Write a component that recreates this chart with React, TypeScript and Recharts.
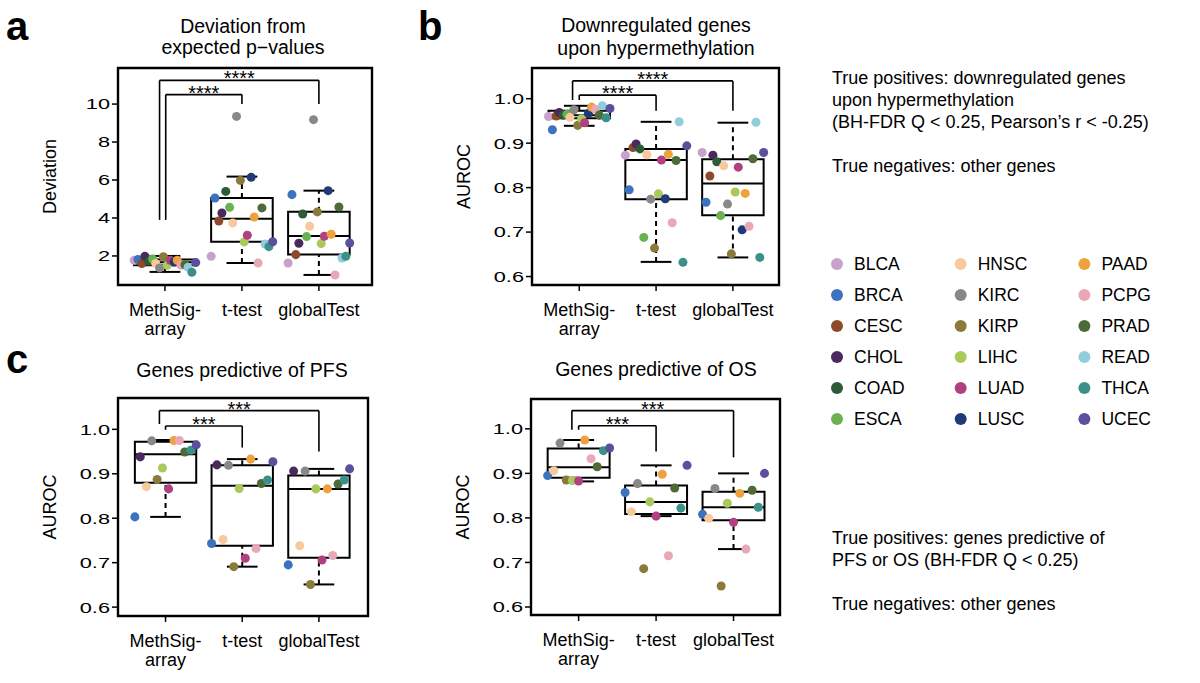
import React from 'react';
import { ScatterChart, Scatter, XAxis, YAxis, ReferenceArea, ReferenceLine, ReferenceDot } from 'recharts';

const FONT = '"Liberation Sans", Arial, Helvetica, sans-serif';

// cancer types + colours (legend order)
const cancers = ['BLCA', 'BRCA', 'CESC', 'CHOL', 'COAD', 'ESCA', 'HNSC', 'KIRC', 'KIRP', 'LIHC', 'LUAD', 'LUSC', 'PAAD', 'PCPG', 'PRAD', 'READ', 'THCA', 'UCEC'];
const cancerColors = ['#c8a2cb', '#3b73bf', '#8c4a2a', '#482a5e', '#2d5a37', '#6bb152', '#f7c99c', '#888888', '#8a7a3c', '#a9c95a', '#b0407f', '#203a78', '#eea23e', '#eaa8b7', '#4d6a38', '#92cddb', '#3b918a', '#5a519e'];

const methodTicks = [1, 2, 3];
const methodLabels = [['MethSig-', 'array'], ['t-test'], ['globalTest']];
const aurocTicks = [0.6, 0.7, 0.8, 0.9, 1.0];

// a: deviation from expected p-values
const devTicks = [2, 4, 6, 8, 10];
const devJitter = [-0.4, -0.35, -0.3, -0.26, -0.21, -0.16, -0.12, -0.07, -0.02, 0.03, 0.07, 0.12, 0.16, 0.21, 0.26, 0.3, 0.35, 0.4];
const devMethSig = [1.77, 1.81, 1.6, 1.98, 1.72, 1.84, 1.6, 1.37, 1.96, 1.51, 1.77, 1.68, 1.77, 1.51, 1.54, 1.4, 1.14, 1.65];
const devTTest = [1.98, 5.05, 3.84, 4.26, 5.4, 4.56, 3.74, 9.35, 5.98, 2.74, 3.09, 6.14, 4.05, 1.63, 4.53, 2.63, 2.49, 2.75];
const devGlobal = [1.63, 5.23, 2.07, 2.67, 4.21, 3.02, 3.56, 9.18, 4.32, 2.65, 3.04, 5.44, 3.14, 1.0, 4.58, 1.89, 1.98, 2.68];
// min, q1, median, q3, max
const devBoxes = [[1.16, 1.51, 1.67, 1.81, 2.0], [1.63, 2.75, 3.96, 5.05, 6.18], [1.0, 2.07, 3.05, 4.33, 5.44]];

// b: downregulated genes upon hypermethylation
const hypJitter = devJitter;
const hypMethSig = [0.96, 0.93, 0.961, 0.969, 0.963, 0.965, 0.958, 0.975, 0.94, 0.955, 0.946, 0.967, 0.981, 0.976, 0.963, 0.984, 0.957, 0.978];
const hypTTest = [0.873, 0.795, 0.89, 0.898, 0.887, 0.688, 0.874, 0.774, 0.664, 0.786, 0.862, 0.775, 0.875, 0.721, 0.861, 0.948, 0.632, 0.894];
const hypGlobal = [0.879, 0.767, 0.826, 0.873, 0.858, 0.737, 0.849, 0.763, 0.651, 0.79, 0.846, 0.705, 0.787, 0.713, 0.865, 0.947, 0.643, 0.879];
const hypBoxes = [[0.939, 0.956, 0.963, 0.973, 0.984], [0.633, 0.774, 0.862, 0.887, 0.948], [0.643, 0.738, 0.809, 0.864, 0.946]];

// c: genes predictive of PFS
const pfsCancers = ['BRCA', 'CHOL', 'HNSC', 'KIRC', 'KIRP', 'LIHC', 'LUAD', 'PAAD', 'PCPG', 'PRAD', 'THCA', 'UCEC'];
const pfsJitter = [-0.4, -0.33, -0.25, -0.18, -0.11, -0.04, 0.04, 0.11, 0.18, 0.25, 0.33, 0.4];
const pfsMethSig = [0.803, 0.938, 0.871, 0.974, 0.887, 0.913, 0.866, 0.975, 0.975, 0.949, 0.953, 0.965];
const pfsTTest = [0.743, 0.92, 0.752, 0.919, 0.691, 0.867, 0.71, 0.933, 0.732, 0.878, 0.886, 0.927];
const pfsGlobal = [0.695, 0.906, 0.738, 0.906, 0.651, 0.866, 0.706, 0.866, 0.716, 0.877, 0.886, 0.911];
const pfsBoxes = [[0.803, 0.88, 0.944, 0.972, 0.976], [0.691, 0.738, 0.873, 0.919, 0.933], [0.651, 0.711, 0.866, 0.896, 0.911]];

// d: genes predictive of OS
const osCancers = ['BRCA', 'HNSC', 'KIRC', 'KIRP', 'LIHC', 'LUAD', 'PAAD', 'PCPG', 'PRAD', 'THCA', 'UCEC'];
const osJitter = [-0.4, -0.32, -0.24, -0.16, -0.08, 0, 0.08, 0.16, 0.24, 0.32, 0.4];
const osMethSig = [0.895, 0.906, 0.968, 0.885, 0.884, 0.883, 0.975, 0.933, 0.915, 0.951, 0.957];
const osTTest = [0.857, 0.814, 0.877, 0.686, 0.836, 0.804, 0.898, 0.715, 0.867, 0.822, 0.918];
const osGlobal = [0.808, 0.799, 0.866, 0.647, 0.833, 0.79, 0.855, 0.73, 0.862, 0.824, 0.9];
const osBoxes = [[0.882, 0.89, 0.914, 0.956, 0.975], [0.804, 0.809, 0.836, 0.873, 0.918], [0.73, 0.795, 0.824, 0.859, 0.9]];

// significance brackets: left leg x, right leg x, left leg bottom, top, right leg bottom
type Bracket = { x1: number; x2: number; y1: number; top: number; y2: number; label: string };
const devBrackets: Bracket[] = [
  { x1: 0.93, x2: 3, y1: 3.9, top: 11.25, y2: 10.0, label: '****' },
  { x1: 1.01, x2: 2, y1: 3.9, top: 10.5, y2: 10.0, label: '****' },
];
const hypBrackets: Bracket[] = [
  { x1: 0.913, x2: 3, y1: 0.997, top: 1.04, y2: 0.973, label: '****' },
  { x1: 1.0, x2: 2, y1: 0.997, top: 1.008, y2: 0.973, label: '****' },
];
const pfsBrackets: Bracket[] = [
  { x1: 0.92, x2: 3, y1: 1.012, top: 1.042, y2: 0.95, label: '***' },
  { x1: 1.0, x2: 2, y1: 0.999, top: 1.0075, y2: 0.959, label: '***' },
];
const osBrackets: Bracket[] = [
  { x1: 0.913, x2: 3, y1: 0.998, top: 1.041, y2: 0.936, label: '***' },
  { x1: 1.0, x2: 2, y1: 0.998, top: 1.007, y2: 0.949, label: '***' },
];

const notesTop = ['True positives: downregulated genes', 'upon hypermethylation', '(BH-FDR Q < 0.25, Pearson\u2019s r < -0.25)', '', 'True negatives: other genes'];
const notesBottom = ['True positives: genes predictive of', 'PFS or OS (BH-FDR Q < 0.25)', '', 'True negatives: other genes'];

const colorOf = (name: string) => cancerColors[cancers.indexOf(name)];

const XTick = (props: any) => {
  const { x, y, payload } = props;
  const lines = methodLabels[payload.value - 1] || [];
  return (
    <text x={x} y={y} textAnchor="middle" fontSize={18} fill="#000">
      {lines.map((l, i) => (
        <tspan key={i} x={x} dy={i === 0 ? 23 : 19}>{l}</tspan>
      ))}
    </text>
  );
};

const YTick = (props: any) => {
  const { x, y, payload, digits } = props;
  return (
    <text transform={`translate(${x},${y}) scale(1.45,1)`} textAnchor="end" dy="0.36em" fontSize={15} fill="#000">
      {payload.value.toFixed(digits)}
    </text>
  );
};

type PanelProps = {
  plot: { x: number; y: number; w: number; h: number };
  xDomain: number[];
  yDomain: number[];
  yTicks: number[];
  digits: number;
  yLabel: string;
  names: string[];
  jitter: number[];
  series: number[][];
  boxes: number[][];
  brackets: Bracket[];
};

const line = { stroke: '#000', strokeWidth: 2 };
const PAD_LEFT = 20;
const AXIS_W = 70;

const BoxPanel = (p: PanelProps) => {
  const W = p.plot.w + PAD_LEFT + AXIS_W + 10;
  const H = p.plot.h + 65;
  return (
    <div style={{ position: 'absolute', left: p.plot.x - AXIS_W - PAD_LEFT, top: p.plot.y - 10, width: W, height: H }}>
      <ScatterChart width={W} height={H} margin={{ top: 10, right: 10, bottom: 0, left: PAD_LEFT }}>
        <XAxis
          type="number"
          dataKey="x"
          domain={p.xDomain}
          allowDataOverflow
          ticks={methodTicks}
          interval={0}
          axisLine={false}
          tickLine={{ stroke: '#000', strokeWidth: 1.5 }}
          tickSize={6}
          height={55}
          tick={(t: any) => <XTick {...t} />}
        />
        <YAxis
          type="number"
          dataKey="y"
          domain={p.yDomain}
          allowDataOverflow
          ticks={p.yTicks}
          interval={0}
          axisLine={false}
          tickLine={{ stroke: '#000', strokeWidth: 1.5 }}
          tickSize={6}
          width={AXIS_W}
          tick={(t: any) => <YTick {...t} digits={p.digits} />}
          label={{ value: p.yLabel, angle: -90, position: 'insideLeft', offset: 2, fontSize: 18, fill: '#000', style: { textAnchor: 'middle' } }}
        />
        <ReferenceArea x1={p.xDomain[0]} x2={p.xDomain[1]} y1={p.yDomain[0]} y2={p.yDomain[1]} fill="none" fillOpacity={0} stroke="#000" strokeWidth={2.4} ifOverflow="visible" />
        {p.boxes.map((b, i) => {
          const c = i + 1;
          const [mn, q1, med, q3, mx] = b;
          return [
            <ReferenceArea key={`box${i}`} x1={c - 0.4} x2={c + 0.4} y1={q1} y2={q3} fill="none" fillOpacity={0} {...line} />,
            <ReferenceLine key={`med${i}`} segment={[{ x: c - 0.4, y: med }, { x: c + 0.4, y: med }]} {...line} />,
            <ReferenceLine key={`wu${i}`} segment={[{ x: c, y: q3 }, { x: c, y: mx }]} {...line} strokeDasharray="5 4" />,
            <ReferenceLine key={`wd${i}`} segment={[{ x: c, y: mn }, { x: c, y: q1 }]} {...line} strokeDasharray="5 4" />,
            <ReferenceLine key={`cu${i}`} segment={[{ x: c - 0.2, y: mx }, { x: c + 0.2, y: mx }]} {...line} />,
            <ReferenceLine key={`cd${i}`} segment={[{ x: c - 0.2, y: mn }, { x: c + 0.2, y: mn }]} {...line} />,
          ];
        })}
        {p.names.map((name, k) => (
          <Scatter
            key={name}
            name={name}
            data={p.series.map((vals, j) => ({ x: j + 1 + p.jitter[k], y: vals[k] }))}
            fill={colorOf(name)}
            isAnimationActive={false}
          />
        ))}
        {p.brackets.map((b, i) => [
          <ReferenceLine key={`bl${i}`} segment={[{ x: b.x1, y: b.y1 }, { x: b.x1, y: b.top }]} stroke="#000" strokeWidth={1.6} />,
          <ReferenceLine key={`bt${i}`} segment={[{ x: b.x1, y: b.top }, { x: b.x2, y: b.top }]} stroke="#000" strokeWidth={1.6} />,
          <ReferenceLine key={`br${i}`} segment={[{ x: b.x2, y: b.top }, { x: b.x2, y: b.y2 }]} stroke="#000" strokeWidth={1.6} />,
          <ReferenceDot
            key={`bs${i}`}
            x={(b.x1 + b.x2) / 2}
            y={b.top}
            r={0}
            ifOverflow="visible"
            shape={(d: any) => (
              <text x={d.cx} y={d.cy + 5} textAnchor="middle" fontSize={20} fill="#000">{b.label}</text>
            )}
          />,
        ])}
      </ScatterChart>
    </div>
  );
};

const App = () => {
  return (
    <div style={{ position: 'absolute', left: 0, top: 0, width: 1200, height: 683, background: '#fff', fontFamily: FONT }}>
      <svg width={1200} height={683} style={{ position: 'absolute', left: 0, top: 0 }} fontFamily={FONT}>
        <text x={6} y={40} fontSize={40} fontWeight="bold">a</text>
        <text x={418} y={40} fontSize={40} fontWeight="bold">b</text>
        <text x={6} y={373} fontSize={40} fontWeight="bold">c</text>

        <text x={243} y={33} fontSize={19.5} textAnchor="middle">Deviation from</text>
        <text x={243} y={54} fontSize={19.5} textAnchor="middle">expected p{'\u2212'}values</text>
        <text x={656} y={32} fontSize={19.5} textAnchor="middle">Downregulated genes</text>
        <text x={656} y={55} fontSize={19.5} textAnchor="middle">upon hypermethylation</text>
        <text x={242} y={377} fontSize={19.5} textAnchor="middle">Genes predictive of PFS</text>
        <text x={656} y={376} fontSize={19.5} textAnchor="middle">Genes predictive of OS</text>

        {notesTop.map((t, i) => (
          <text key={`nt${i}`} x={832} y={84 + i * 22} fontSize={18}>{t}</text>
        ))}
        {notesBottom.map((t, i) => (
          <text key={`nb${i}`} x={832} y={544 + i * 22} fontSize={18}>{t}</text>
        ))}

        {cancers.map((c, i) => {
          const col = Math.floor(i / 6);
          const row = i % 6;
          const cx = 837 + col * 123.7;
          const cy = 264 + row * 31;
          return (
            <g key={c}>
              <circle cx={cx} cy={cy} r={6} fill={cancerColors[i]} />
              <text x={cx + 17} y={cy + 6.3} fontSize={17.5}>{c}</text>
            </g>
          );
        })}
      </svg>

      <BoxPanel
        plot={{ x: 118, y: 68, w: 254, h: 217 }}
        xDomain={[0.39, 3.69]}
        yDomain={[0.47, 11.9]}
        yTicks={devTicks}
        digits={0}
        yLabel="Deviation"
        names={cancers}
        jitter={devJitter}
        series={[devMethSig, devTTest, devGlobal]}
        boxes={devBoxes}
        brackets={devBrackets}
      />
      <BoxPanel
        plot={{ x: 532, y: 68, w: 247, h: 217 }}
        xDomain={[0.385, 3.6]}
        yDomain={[0.581, 1.069]}
        yTicks={aurocTicks}
        digits={1}
        yLabel="AUROC"
        names={cancers}
        jitter={hypJitter}
        series={[hypMethSig, hypTTest, hypGlobal]}
        boxes={hypBoxes}
        brackets={hypBrackets}
      />
      <BoxPanel
        plot={{ x: 118, y: 398, w: 250, h: 218 }}
        xDomain={[0.38, 3.64]}
        yDomain={[0.58, 1.0705]}
        yTicks={aurocTicks}
        digits={1}
        yLabel="AUROC"
        names={pfsCancers}
        jitter={pfsJitter}
        series={[pfsMethSig, pfsTTest, pfsGlobal]}
        boxes={pfsBoxes}
        brackets={pfsBrackets}
      />
      <BoxPanel
        plot={{ x: 531, y: 399, w: 249, h: 216 }}
        xDomain={[0.385, 3.6]}
        yDomain={[0.582, 1.067]}
        yTicks={aurocTicks}
        digits={1}
        yLabel="AUROC"
        names={osCancers}
        jitter={osJitter}
        series={[osMethSig, osTTest, osGlobal]}
        boxes={osBoxes}
        brackets={osBrackets}
      />
    </div>
  );
};

export default App;
